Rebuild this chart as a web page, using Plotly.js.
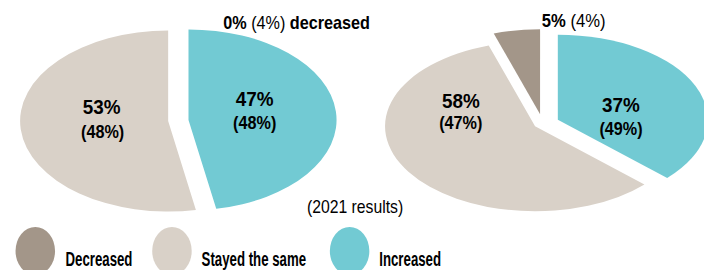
<!DOCTYPE html>
<html><head><meta charset="utf-8">
<script src="https://cdn.plot.ly/plotly-3.0.1.min.js"></script>
<style>
html,body{margin:0;padding:0;background:#fff;}
#stage{position:relative;width:704px;height:270px;overflow:hidden;background:#fff;}
.layer{position:absolute;top:0;transform-origin:0 0;}
</style></head><body>
<div id="stage">
  <div id="pieL" class="layer"></div>
  <div id="pieR" class="layer"></div>
  <div id="labels" class="layer"></div>
  <div id="legend" class="layer"></div>
</div>
<script>
// ---- data ----
const categories = ['Decreased', 'Stayed the same', 'Increased'];
const sliceColors = ['#A39689', '#D9D1C8', '#72CAD3'];
const leftValues = [0, 53, 47];      // current results
const leftPrev = [4, 48, 48];        // 2021 results
const rightValues = [5, 58, 37];
const rightPrev = [4, 47, 49];
const noteText = '(2021 results)';

// ---- styles / layout constants ----
const FONT = '"Liberation Sans", Arial, sans-serif';
const H = 270;
const cfg = {staticPlot: true, displayModeBar: false};

function rev(a) { return a.slice().reverse(); }

function drawPie(id, values, opt) {
  const el = document.getElementById(id);
  el.style.left = opt.L + 'px';
  el.style.width = opt.W0 + 'px';
  el.style.height = H + 'px';
  el.style.transform = 'scaleX(' + opt.k + ')';
  // clockwise from 12 o'clock: Increased, Stayed the same, Decreased
  Plotly.newPlot(el, [{
    type: 'pie', values: rev(values), labels: rev(categories),
    marker: {colors: rev(sliceColors), line: {width: 0}},
    sort: false, direction: 'clockwise', rotation: 0,
    pull: rev(opt.pull), textinfo: 'none', hoverinfo: 'skip', showlegend: false,
    domain: {x: [0, 1], y: opt.domainY}
  }], {
    width: opt.W0, height: H, margin: {l: 0, r: 0, t: 0, b: 0},
    paper_bgcolor: 'rgba(0,0,0,0)', plot_bgcolor: 'rgba(0,0,0,0)', showlegend: false
  }, cfg);
}

drawPie('pieL', leftValues, {W0: 196, k: 1.636, L: 17.8, domainY: [0.1954, 0.912], pull: [0, 0.069, 0.069]});
drawPie('pieR', rightValues, {W0: 190, k: 1.765, L: 375.3, domainY: [0.1931, 0.892], pull: [0.11, 0.06, 0.11]});

// ---- labels layer (slightly condensed) ----
const sL = 0.9;
function pct(v) { return v + '%'; }
function prev(v) { return '(' + v + '%)'; }
const labelPos = {
  left:  [null, {x: 101.7, y: 106.5, px: 102.5, py: 131.5}, {x: 255, y: 98.3, px: 255, py: 123.3}],
  right: [null, {x: 461, y: 100.3, px: 461.3, py: 122.5}, {x: 621, y: 104, px: 621.3, py: 128.7}]
};
const ann = [];
function addAnn(list, scale, text, x, y, size, anchor) {
  list.push({text: text, x: x / scale, y: y, xref: 'x', yref: 'y',
    xanchor: anchor || 'center', yanchor: 'middle', showarrow: false,
    font: {family: FONT, size: size, color: '#000'}});
}
[['left', leftValues, leftPrev], ['right', rightValues, rightPrev]].forEach(function (p) {
  const pos = labelPos[p[0]];
  for (let i = 1; i < 3; i++) {
    addAnn(ann, sL, '<b>' + pct(p[1][i]) + '</b>', pos[i].x, pos[i].y, 21);
    addAnn(ann, sL, '<b>' + prev(p[2][i]) + '</b>', pos[i].px, pos[i].py, 18);
  }
});
addAnn(ann, sL, '<b>' + pct(leftValues[0]) + '</b> ' + prev(leftPrev[0]) + ' <b>' + categories[0].toLowerCase() + '</b>', 296.7, 22.5, 18);
addAnn(ann, sL, '<b>' + pct(rightValues[0]) + '</b> ' + prev(rightPrev[0]), 573.8, 20.5, 18.5);
addAnn(ann, sL, noteText, 355, 207, 17.5);

// legend swatches (ellipses) drawn in this layer
const legCx = [35.3, 172, 349.7];
const legW = 39.5;
const shapes = categories.map(function (c, i) {
  return {type: 'circle', xref: 'x', yref: 'y',
    x0: (legCx[i] - legW / 2) / sL, x1: (legCx[i] + legW / 2) / sL, y0: 227, y1: 275,
    fillcolor: sliceColors[i], line: {width: 0}};
});

const lab = document.getElementById('labels');
lab.style.left = '0px';
lab.style.transform = 'scaleX(' + sL + ')';
Plotly.newPlot(lab, [], {
  width: 704 / sL, height: H, margin: {l: 0, r: 0, t: 0, b: 0},
  paper_bgcolor: 'rgba(0,0,0,0)', plot_bgcolor: 'rgba(0,0,0,0)',
  xaxis: {range: [0, 704 / sL], visible: false, fixedrange: true},
  yaxis: {range: [H, 0], visible: false, fixedrange: true},
  annotations: ann, shapes: shapes, showlegend: false
}, cfg);

// ---- legend text layer (strongly condensed) ----
const sG = 0.63;
const legTx = [64, 200.7, 378];
const lann = [];
categories.forEach(function (c, i) {
  addAnn(lann, sG, '<b>' + c + '</b>', legTx[i], 258.7, 21, 'left');
});
const leg = document.getElementById('legend');
leg.style.left = '0px';
leg.style.transform = 'scaleX(' + sG + ')';
Plotly.newPlot(leg, [], {
  width: 704 / sG, height: H, margin: {l: 0, r: 0, t: 0, b: 0},
  paper_bgcolor: 'rgba(0,0,0,0)', plot_bgcolor: 'rgba(0,0,0,0)',
  xaxis: {range: [0, 704 / sG], visible: false, fixedrange: true},
  yaxis: {range: [H, 0], visible: false, fixedrange: true},
  annotations: lann, showlegend: false
}, cfg);
</script>
</body></html>
